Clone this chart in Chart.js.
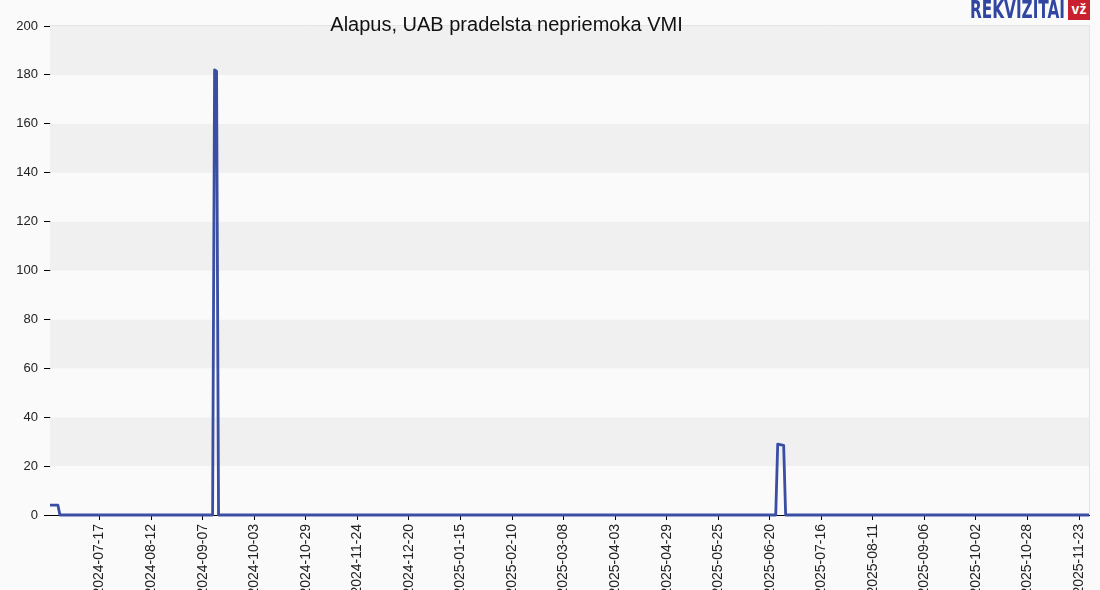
<!DOCTYPE html>
<html>
<head>
<meta charset="utf-8">
<script src="https://cdn.jsdelivr.net/npm/chart.js@4.4.0/dist/chart.umd.min.js"></script>
<style>
html,body{margin:0;padding:0;background:#fafafa;overflow:hidden;}
#wrap{position:relative;width:1100px;height:590px;overflow:hidden;}
canvas{position:absolute;left:0;top:0;}
#title{position:absolute;left:0;width:1013px;top:13px;line-height:20px;text-align:center;font:20px "Liberation Sans",Arial,sans-serif;color:#111;white-space:nowrap;}
#logo{position:absolute;left:970px;top:-3px;font:bold 25px "DejaVu Sans Condensed","DejaVu Sans",sans-serif;color:#3046a0;transform-origin:0 0;white-space:nowrap;line-height:25px;}
#vz{position:absolute;left:1068px;top:0px;width:22px;height:20px;background:#c8202e;color:#fff;font:bold 14px "Liberation Sans",Arial,sans-serif;text-align:center;line-height:19px;}
</style>
</head>
<body>
<div id="wrap">
<canvas id="c" width="1100" height="590"></canvas>
<div id="title">Alapus, UAB pradelsta nepriemoka VMI</div>
<div id="logo">REKVIZITAI</div>
<div id="vz">vž</div>
</div>
<script>
const dates = ['2024-06-22','2024-06-26','2024-06-27','2024-09-12','2024-09-13','2024-09-14','2024-09-15','2025-06-23','2025-06-24','2025-06-27','2025-06-28','2025-11-28'];
const values = [4, 4, 0, 0, 182, 181.5, 0, 0, 29, 28.5, 0, 0];
const tickLabels = ['2024-07-17','2024-08-12','2024-09-07','2024-10-03','2024-10-29','2024-11-24','2024-12-20','2025-01-15','2025-02-10','2025-03-08','2025-04-03','2025-04-29','2025-05-25','2025-06-20','2025-07-16','2025-08-11','2025-09-06','2025-10-02','2025-10-28','2025-11-23'];
const xStart = '2024-06-22', xEnd = '2025-11-28';

function toDay(s){const p=s.split('-').map(Number);return Date.UTC(p[0],p[1]-1,p[2])/86400000;}
function fromDay(d){return new Date(Math.round(d)*86400000).toISOString().slice(0,10);}

(function(){const el=document.getElementById('logo');const w=el.getBoundingClientRect().width;el.style.transform='scaleX('+(95/w)+')';})();

const bands = {
  id:'bands',
  beforeDatasetsDraw(chart){
    const {ctx, chartArea:a, scales:{y}} = chart;
    ctx.save();
    for(let v=0; v<200; v+=20){
      const top=y.getPixelForValue(v+20), bot=y.getPixelForValue(v);
      ctx.fillStyle = ((v/20)%2===1) ? '#f0f0f0' : '#fafafa';
      ctx.fillRect(a.left, top, a.right-a.left, bot-top);
    }
    ctx.strokeStyle='#e4e4e4';ctx.lineWidth=1;
    ctx.beginPath();ctx.moveTo(a.left,a.top-0.5);ctx.lineTo(a.right,a.top-0.5);
    ctx.moveTo(a.right+0.5,a.top-1);ctx.lineTo(a.right+0.5,a.bottom);ctx.stroke();
    ctx.restore();
  }
};

const yFont = {family:'"Liberation Sans", Arial, sans-serif', size:13};
const xFont = {family:'"Liberation Sans", Arial, sans-serif', size:14};

new Chart(document.getElementById('c'), {
  type:'line',
  data:{datasets:[{
    data: dates.map((d,i)=>({x:toDay(d), y:values[i]})),
    borderColor:'#3a4ea3', borderWidth:2.8, pointRadius:0, tension:0,
    borderJoinStyle:'round', clip:false, fill:false
  }]},
  options:{
    responsive:false, animation:false,
    layout:{padding:{top:26,right:10,left:0,bottom:0}},
    plugins:{legend:{display:false}, tooltip:{enabled:false}},
    scales:{
      x:{
        type:'linear', min:toDay(xStart), max:toDay(xEnd),
        afterBuildTicks(s){ s.ticks = tickLabels.map(t=>({value:toDay(t)})); },
        afterFit(s){ s.height = 75; },
        ticks:{autoSkip:false, maxRotation:90, minRotation:90, color:'#222',
          font:xFont, callback:(v)=>fromDay(v), padding:4},
        grid:{drawOnChartArea:false, tickLength:5, color:'#000'},
        border:{color:'#000', width:1}
      },
      y:{
        min:0, max:200,
        afterFit(s){ s.width = 50; },
        ticks:{stepSize:20, color:'#222', padding:6, font:yFont},
        grid:{drawOnChartArea:false, tickLength:6, color:'#000'},
        border:{color:'#000', width:1}
      }
    }
  },
  plugins:[bands]
});
</script>
</body>
</html>
